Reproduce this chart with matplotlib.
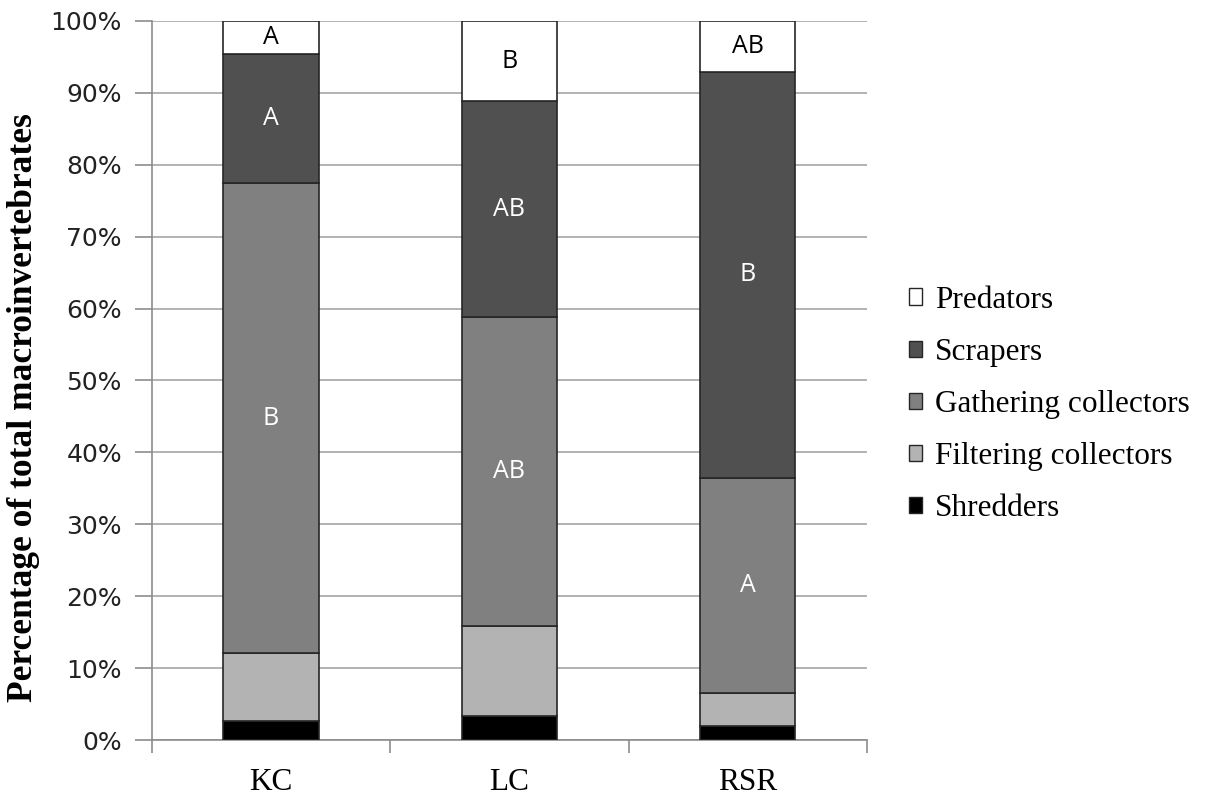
import matplotlib
matplotlib.use('Agg')
import matplotlib.pyplot as plt
from matplotlib.patches import Patch
from matplotlib.ticker import FixedLocator, PercentFormatter
import numpy as np

sites = ['KC', 'LC', 'RSR']
group_names = ['Shredders', 'Filtering collectors', 'Gathering collectors', 'Scrapers', 'Predators']
shredders = [2.7, 3.4, 2.0]
filtering = [9.4, 12.5, 4.6]
gathering = [65.3, 42.9, 29.9]
scrapers = [18.0, 30.0, 56.4]
predators = [4.6, 11.2, 7.1]
gathering_letters = ['B', 'AB', 'A']
scrapers_letters = ['A', 'AB', 'B']
predators_letters = ['A', 'B', 'AB']
yticks = [0, 10, 20, 30, 40, 50, 60, 70, 80, 90, 100]

series = [shredders, filtering, gathering, scrapers, predators]
colors = ['#000000', '#b3b3b3', '#808080', '#505050', '#ffffff']
letters = [None, None, gathering_letters, scrapers_letters, predators_letters]
letter_colors = [None, None, 'white', 'white', 'black']

fig = plt.figure(figsize=(12.09, 7.97), dpi=100)
ax = fig.add_axes([0.1257, 0.0715, 0.5913, 0.9022])

x = np.arange(len(sites))
bottom = np.zeros(len(sites))
for vals, col, lab, labs, lc in zip(series, colors, group_names, letters, letter_colors):
    v = np.array(vals, dtype=float)
    ax.bar(x, v, width=0.40, bottom=bottom, color=col, edgecolor='#262626',
           linewidth=1.2, zorder=3, label=lab)
    if labs is not None:
        for xi, bi, vi, t in zip(x, bottom, v, labs):
            ax.text(xi, bi + vi / 2, t, ha='center', va='center', color=lc,
                    fontsize=18, family=['Open Sans', 'DejaVu Sans'], zorder=4)
    bottom += v

ax.set_xlim(-0.5, len(sites) - 0.5)
ax.set_ylim(0, 100)
ax.yaxis.set_major_locator(FixedLocator(yticks))
ax.yaxis.set_major_formatter(PercentFormatter(decimals=0))
ax.yaxis.grid(True, color='#a6a6a6', linewidth=1.2, zorder=0)
ax.set_axisbelow(True)

for s in ['top', 'right']:
    ax.spines[s].set_visible(False)
for s in ['left', 'bottom']:
    ax.spines[s].set_color('#8c8c8c')
    ax.spines[s].set_linewidth(1.2)

ax.set_xticks(x)
ax.set_xticklabels(sites, fontsize=22.5, family='Liberation Serif')
ax.tick_params(axis='x', which='major', length=0, pad=20)
ax.set_xticks(np.arange(-0.5, len(sites)), minor=True)
ax.tick_params(axis='x', which='minor', length=9, color='#8c8c8c', width=1.2)
ax.tick_params(axis='y', length=12, color='#8c8c8c', width=1.2, labelsize=18, pad=9.6)
for t in ax.get_yticklabels():
    t.set_family('DejaVu Sans')
    t.set_color('#222222')

ax.set_ylabel('Percentage of total macroinvertebrates', fontsize=25.5,
              family='Liberation Serif', fontweight='bold')
ax.yaxis.set_label_coords(-0.157, 0.462)

handles = [Patch(facecolor=c, edgecolor='#262626', linewidth=1.0, label=n)
           for c, n in zip(colors[::-1], group_names[::-1])]
fig.legend(handles=handles, loc='center left', bbox_to_anchor=(0.752, 0.4925),
           frameon=False, prop={'family': 'Liberation Serif', 'size': 22.5},
           handlelength=0.42, handleheight=0.42, handletextpad=0.4,
           labelspacing=0.74, borderaxespad=0, borderpad=0)

fig.savefig('out.png', dpi=100)
